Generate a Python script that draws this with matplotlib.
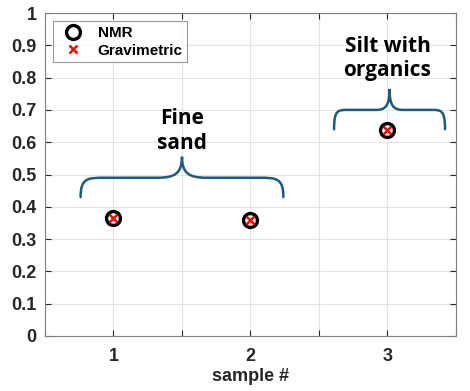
'''NMR vs gravimetric water content per sample, with soil-type braces'''

import matplotlib
matplotlib.use('Agg')
import matplotlib.pyplot as plt
from matplotlib.path import Path
from matplotlib.patches import PathPatch

samples = [1, 2, 3]
nmr = [0.365, 0.359, 0.637]
gravimetric = [0.365, 0.359, 0.637]
groups = ['Fine\nsand', 'Silt with\norganics']

AX_COLOR = '#262626'
BRACE_COLOR = '#1d5b78'


#draw a curly brace (opening downwards) between x0 and x1
def brace(ax, x0, x1, y_end, y_flat, y_peak):
    xc = (x0 + x1) / 2
    w = (x1 - x0)
    r = 0.12 * w
    dy = y_flat - y_end
    verts = [(x0, y_end),
             (x0, y_end + dy), (x0 + r * 0.3, y_flat), (x0 + r, y_flat),
             (xc - r, y_flat),
             (xc - r * 0.3, y_flat), (xc, y_flat + 0.2 * (y_peak - y_flat)), (xc, y_peak),
             (xc, y_flat + 0.2 * (y_peak - y_flat)), (xc + r * 0.3, y_flat), (xc + r, y_flat),
             (x1 - r, y_flat),
             (x1 - r * 0.3, y_flat), (x1, y_end + dy), (x1, y_end)]
    codes = [Path.MOVETO,
             Path.CURVE4, Path.CURVE4, Path.CURVE4,
             Path.LINETO,
             Path.CURVE4, Path.CURVE4, Path.CURVE4,
             Path.CURVE4, Path.CURVE4, Path.CURVE4,
             Path.LINETO,
             Path.CURVE4, Path.CURVE4, Path.CURVE4]
    ax.add_patch(PathPatch(Path(verts, codes), fill=False, lw=1.8,
                           ec=BRACE_COLOR, capstyle='round'))


plt.rcParams['font.family'] = ['Liberation Sans', 'DejaVu Sans']
fig = plt.figure(figsize=(4.7, 3.91), dpi=100)
ax = fig.add_axes([0.0957, 0.1407, 0.8745, 0.826])

ax.plot(samples, nmr, 'o', ms=10, mfc='none', mec='black', mew=2.4,
        label='NMR', zorder=3)
ax.plot(samples, gravimetric, 'x', ms=6, color='red', mew=1.8,
        label='Gravimetric', zorder=4)

brace(ax, 0.76, 2.24, 0.43, 0.49, 0.555)
brace(ax, 2.61, 3.42, 0.64, 0.70, 0.765)
ax.text(1.5, 0.635, groups[0], ha='center', va='center', fontsize=15,
        fontweight='bold', family='Open Sans', linespacing=1.2)
ax.text(3.0, 0.86, groups[1], ha='center', va='center', fontsize=15,
        fontweight='bold', family='Open Sans', linespacing=1.2)

ax.set_xlim(0.5, 3.5)
ax.set_ylim(0, 1)
xt = [0.5, 1, 1.5, 2, 2.5, 3, 3.5]
ax.set_xticks(xt)
ax.set_xticklabels(['', '1', '', '2', '', '3', ''])
ax.set_yticks([i / 10 for i in range(11)])
ax.set_yticklabels(['0', '0.1', '0.2', '0.3', '0.4', '0.5', '0.6', '0.7',
                    '0.8', '0.9', '1'])
ax.tick_params(direction='in', length=4, width=0.8, color=AX_COLOR,
               labelcolor=AX_COLOR, labelsize=13, top=True, right=True,
               pad=6)
ax.tick_params(axis='x', pad=9)
for lab in ax.get_xticklabels() + ax.get_yticklabels():
    lab.set_fontweight('bold')
for s in ax.spines.values():
    s.set_color('#7f7f7f')
    s.set_linewidth(0.8)
ax.grid(True, color='#e3e3e3', lw=0.8)
ax.set_axisbelow(True)
ax.set_xlabel('sample #', fontsize=13, fontweight='bold', color=AX_COLOR,
              labelpad=2)

leg = ax.legend(loc='upper left', fontsize=11, frameon=True, fancybox=False,
                edgecolor='#7f7f7f', borderaxespad=0.55, handletextpad=0.6,
                borderpad=0.3, labelspacing=0.25, handlelength=2.0)
for t in leg.get_texts():
    t.set_fontweight('bold')
leg.get_frame().set_linewidth(0.8)

plt.savefig('out.png', dpi=100)
